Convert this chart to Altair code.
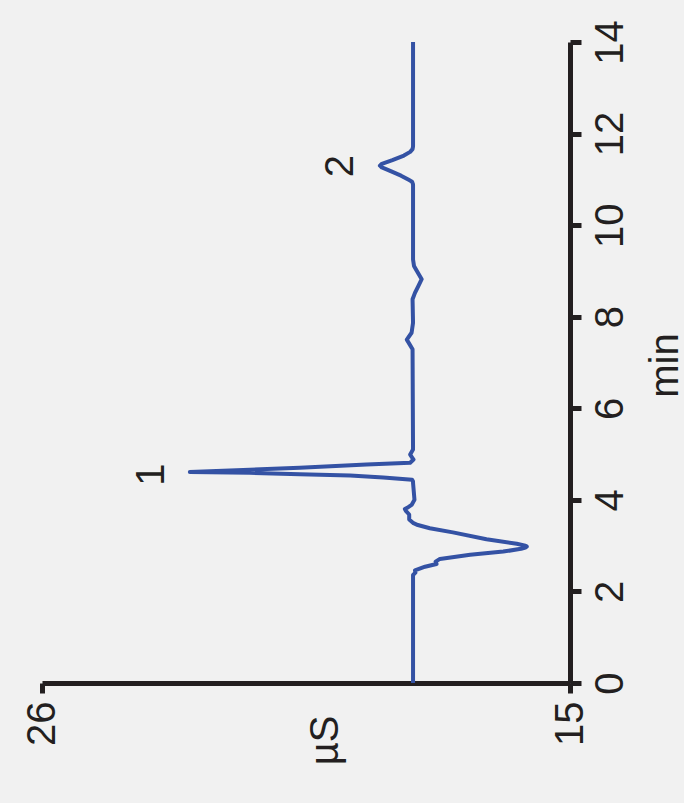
import altair as alt
import pandas as pd

# Chromatogram trace (time in min, conductivity in µS)
time_min = [0.00, 2.36, 2.41, 2.46, 2.54, 2.60, 2.65, 2.71, 2.80, 2.87, 2.93, 2.96, 2.98, 3.00,
            3.04, 3.14, 3.29, 3.38, 3.45, 3.49, 3.57, 3.68, 3.76, 3.80, 3.84, 3.89, 4.00, 4.37,
            4.40, 4.44, 4.49, 4.53, 4.56, 4.59, 4.61, 4.66, 4.70, 4.77, 4.81, 4.88, 4.99, 5.10,
            7.29, 7.50, 7.65, 7.87, 8.38, 8.52, 8.67, 8.82, 9.00, 9.11, 9.25,
            10.89, 10.95, 10.99, 11.08, 11.19, 11.26, 11.30, 11.34, 11.42, 11.52, 11.60, 11.66, 11.72, 14.00]
conductivity = [18.27, 18.27, 18.22, 18.23, 18.02, 17.78, 17.80, 17.71, 17.08, 16.39, 16.02, 15.93, 15.90, 15.93,
                16.11, 16.74, 17.44, 17.92, 18.17, 18.26, 18.35, 18.35, 18.42, 18.44, 18.37, 18.30, 18.24, 18.27,
                18.27, 18.29, 18.89, 19.58, 20.63, 21.67, 22.92, 21.67, 20.63, 19.24, 18.33, 18.26, 18.33, 18.27,
                18.28, 18.40, 18.30, 18.27, 18.28, 18.23, 18.16, 18.09, 18.19, 18.25, 18.27,
                18.27, 18.29, 18.36, 18.52, 18.76, 18.92, 18.96, 18.92, 18.70, 18.46, 18.33, 18.28, 18.27, 18.27]

peak_labels = ["1", "2"]
peak_time = [4.55, 11.29]
peak_us = [23.71, 19.77]

x_ticks = [15, 26]
y_ticks = [0, 2, 4, 6, 8, 10, 12, 14]

trace = pd.DataFrame({"t": time_min, "us": conductivity})
peaks = pd.DataFrame({"label": peak_labels, "t": peak_time, "us": peak_us})

FONT = "Liberation Sans"
INK = "#231f20"

x_enc = alt.X(
    "us:Q",
    scale=alt.Scale(domain=[15, 26], reverse=True, nice=False, zero=False),
    axis=alt.Axis(
        orient="bottom", values=x_ticks, title="µS", grid=False,
        labelAngle=270, labelAlign="right", labelBaseline="middle",
        labelPadding=8, labelFontSize=40, labelFont=FONT, labelColor=INK,
        titleAngle=270, titleAlign="center", titleBaseline="middle",
        titleX=283, titleY=57, titleFontSize=40, titleFont=FONT,
        titleFontWeight="normal", titleColor=INK,
        domainWidth=5, domainColor=INK, tickWidth=5, tickSize=10, tickColor=INK,
    ),
)
y_enc = alt.Y(
    "t:Q",
    scale=alt.Scale(domain=[0, 14], nice=False, zero=False),
    axis=alt.Axis(
        orient="right", values=y_ticks, title="min", grid=False,
        labelAngle=270, labelAlign="center", labelBaseline="top",
        labelPadding=9, labelFontSize=40, labelFont=FONT, labelColor=INK,
        titleAngle=270, titleAlign="center", titleBaseline="middle",
        titleX=95, titleY=323, titleFontSize=40, titleFont=FONT,
        titleFontWeight="normal", titleColor=INK,
        domainWidth=5, domainColor=INK, tickWidth=5, tickSize=11, tickColor=INK,
    ),
)

line = alt.Chart(trace).mark_line(color="#3452a4", strokeWidth=4, strokeJoin="round").encode(
    x=x_enc, y=y_enc, order=alt.Order("t:Q")
)

labels = alt.Chart(peaks).mark_text(
    angle=270, align="center", baseline="middle", fontSize=40, font=FONT, color=INK
).encode(x=alt.X("us:Q"), y=alt.Y("t:Q"), text="label:N")

chart = alt.layer(line, labels).properties(
    width=528, height=641,
    autosize=alt.AutoSizeParams(type="none"),
    padding={"left": 42, "top": 42, "right": 114, "bottom": 120},
    background="#f1f1f1",
).configure_view(stroke=None)

chart.save("out.html", embed_options={"renderer": "svg", "actions": False})
